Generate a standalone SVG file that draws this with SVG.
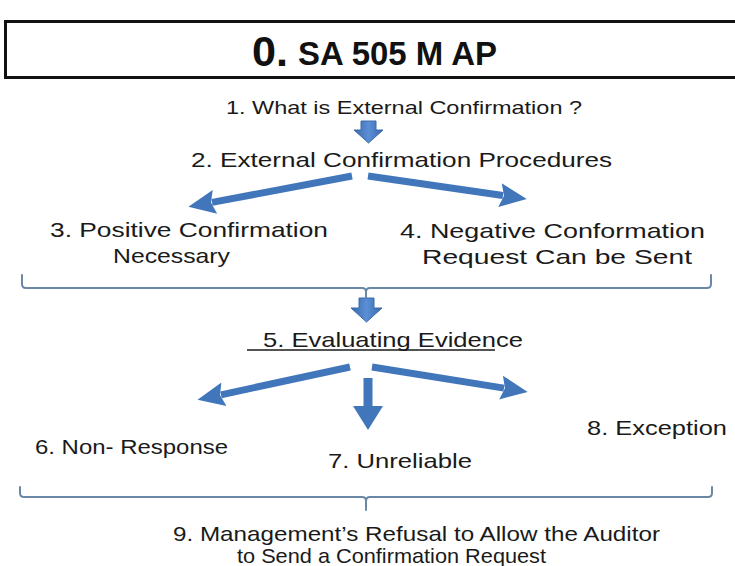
<svg xmlns="http://www.w3.org/2000/svg" width="735" height="566" viewBox="0 0 735 566">
  <style>
    .t { font-family: "Liberation Sans", Arial, sans-serif; fill: #1a1a1a; }
    .m { font-size: 21px; }
    .s { font-size: 18.5px; }
    .title { font-family: "Liberation Sans", Arial, sans-serif; font-weight: bold; fill: #111; }
    .flow { stroke: #4176bb; stroke-width: 7; fill: none; marker-end: url(#head); }
    .brace { stroke: #6a87a6; stroke-width: 2; fill: none; stroke-linecap: round; stroke-linejoin: round; }
    .block { fill: url(#blockFill); stroke: #3d6aa6; stroke-width: 1; }
  </style>
  <defs>
    <marker id="head" markerUnits="userSpaceOnUse" markerWidth="30" markerHeight="30" viewBox="0 0 30 30" refX="3" refY="15" orient="auto">
      <path d="M0,3 L27,15 L0,27 L4,15 z" fill="#4176bb"/>
    </marker>
    <linearGradient id="blockFill" x1="0" y1="0" x2="1" y2="0">
      <stop offset="0" stop-color="#3a68ac"/>
      <stop offset="0.5" stop-color="#5a8fd6"/>
      <stop offset="1" stop-color="#3a68ac"/>
    </linearGradient>
  </defs>

  <rect width="735" height="566" fill="#ffffff"/>

  <!-- title banner -->
  <g id="title">
    <rect x="5.5" y="21.5" width="733" height="56" fill="#ffffff" stroke="#111" stroke-width="3"/>
    <text class="title" x="252" y="66" font-size="42" textLength="40" lengthAdjust="spacingAndGlyphs" transform="translate(252 66) scale(0.9 1) translate(-252 -66)">0.</text>
    <text class="title" x="298" y="65" font-size="34" textLength="199" lengthAdjust="spacingAndGlyphs">SA 505 M AP</text>
  </g>

  <g id="n1">
    <text class="t s" x="226" y="114" textLength="356" lengthAdjust="spacingAndGlyphs">1. What is External Confirmation ?</text>
  </g>
  <g id="n2">
    <text class="t m" x="191" y="167" textLength="421" lengthAdjust="spacingAndGlyphs">2. External Confirmation Procedures</text>
  </g>
  <g id="n3">
    <text class="t m" x="50" y="237" textLength="278" lengthAdjust="spacingAndGlyphs">3. Positive Confirmation</text>
    <text class="t m" x="113" y="263" textLength="117" lengthAdjust="spacingAndGlyphs">Necessary</text>
  </g>
  <g id="n4">
    <text class="t m" x="400" y="238" textLength="305" lengthAdjust="spacingAndGlyphs">4. Negative Conformation</text>
    <text class="t m" x="422" y="264" textLength="270" lengthAdjust="spacingAndGlyphs">Request Can be Sent</text>
  </g>
  <g id="n5">
    <text class="t m" x="263" y="347" textLength="260" lengthAdjust="spacingAndGlyphs">5. Evaluating Evidence</text>
    <line x1="247" y1="350" x2="495" y2="350" stroke="#1a1a1a" stroke-width="1.6"/>
  </g>
  <g id="n6">
    <text class="t m" x="35" y="454" textLength="193" lengthAdjust="spacingAndGlyphs">6. Non- Response</text>
  </g>
  <g id="n7">
    <text class="t m" x="328" y="468" textLength="144" lengthAdjust="spacingAndGlyphs">7. Unreliable</text>
  </g>
  <g id="n8">
    <text class="t m" x="587" y="435" textLength="140" lengthAdjust="spacingAndGlyphs">8. Exception</text>
  </g>
  <g id="n9">
    <text class="t m" x="173" y="541" textLength="487" lengthAdjust="spacingAndGlyphs">9. Management’s Refusal to Allow the Auditor</text>
    <text class="t m" x="237" y="563" textLength="309" lengthAdjust="spacingAndGlyphs">to Send a Confirmation Request</text>
  </g>

  <g id="connectors">
    <!-- 1 to 2 -->
    <path class="block" d="M361,121 H376 V130 H383 L368.5,143 L354,130 H361 Z"/>
    <!-- 2 to 3 and 4 -->
    <line class="flow" x1="352" y1="176" x2="212" y2="202.4"/>
    <line class="flow" x1="368" y1="176" x2="503" y2="195.5"/>
    <!-- brace gathering 3 and 4 -->
    <path class="brace" d="M22,275 V284 Q22,288 26,288 H362 Q366,288 366,292 V297 M366,292 Q366,288 370,288 H707 Q711,288 711,284 V275"/>
    <path class="block" d="M359,298 H374 V308 H382 L366.5,322 L351,308 H359 Z"/>
    <!-- 5 to 6, 7, 8 -->
    <line class="flow" x1="350" y1="367" x2="221" y2="394.8"/>
    <line class="flow" x1="372" y1="367" x2="504" y2="388.1"/>
    <path d="M363.5,378 H372.5 V406 H383 L368,430 L353,406 H363.5 Z" fill="#4176bb"/>
    <!-- brace gathering 6, 7, 8 -->
    <path class="brace" d="M20,487 V493 Q20,497 24,497 H362 Q366,497 366,501 V510 M366,501 Q366,497 370,497 H708 Q712,497 712,493 V487"/>
  </g>
</svg>
